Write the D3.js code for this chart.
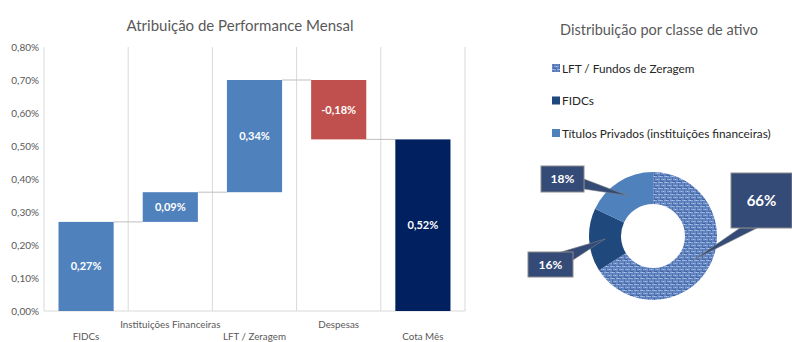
<!DOCTYPE html>
<html>
<head>
<meta charset="utf-8">
<script src="https://cdn.jsdelivr.net/npm/d3@7/dist/d3.min.js"></script>
<style>
  html, body { margin: 0; padding: 0; background: #fff; }
  svg { display: block; font-family: Lato, "Open Sans", sans-serif; }
</style>
</head>
<body>
<svg id="chart" width="792" height="342"></svg>
<script>
// Waterfall: monthly performance attribution
const categories = ["FIDCs", "Instituições Financeiras", "LFT / Zeragem", "Despesas", "Cota Mês"];
const deltas = [0.27, 0.09, 0.34, -0.18, 0.52];
const isTotal = [false, false, false, false, true];
const yTicks = [0, 0.1, 0.2, 0.3, 0.4, 0.5, 0.6, 0.7, 0.8];

// Donut: allocation by asset class
const classes = ["LFT / Fundos de Zeragem", "FIDCs", "Títulos Privados (instituições financeiras)"];
const shares = [66, 16, 18];

(function () {
const svg = d3.select("#chart");
const fmt = v => d3.format(".2f")(v).replace(".", ",").replace("\u2212", "-") + "%";

// ---------- waterfall ----------
const plotL = 44, plotR = 465, plotT = 47, plotB = 311;
const x = d3.scaleBand().domain(categories).range([plotL, plotR]).padding(0);
const y = d3.scaleLinear().domain([0, 0.8]).range([plotB, plotT]);

// running totals
let run = 0;
const steps = categories.map((c, i) => {
  let start, end;
  if (isTotal[i]) { start = 0; end = deltas[i]; run = end; }
  else { start = run; end = +(run + deltas[i]).toFixed(4); run = end; }
  return { cat: c, start, end, value: deltas[i], total: isTotal[i] };
});

svg.append("text")
  .attr("x", 240).attr("y", 31)
  .attr("text-anchor", "middle")
  .attr("fill", "#595959")
  .attr("font-size", 15)
  .text("Atribuição de Performance Mensal");

// vertical gridlines at band boundaries
const bounds = categories.map(c => x(c)).concat([plotR]);
svg.append("g").selectAll("line").data(bounds).join("line")
  .attr("x1", d => d).attr("x2", d => d)
  .attr("y1", plotT).attr("y2", plotB)
  .attr("stroke", "#d9d9d9").attr("stroke-width", 1);

svg.append("line")
  .attr("x1", plotL).attr("x2", plotR)
  .attr("y1", plotB).attr("y2", plotB)
  .attr("stroke", "#d9d9d9");

// y axis labels
const yAxis = d3.axisLeft(y).tickValues(yTicks).tickFormat(fmt).tickSize(0).tickPadding(5);
const gy = svg.append("g").attr("transform", `translate(${plotL},0)`).call(yAxis);
gy.select(".domain").remove();
gy.selectAll("text").attr("fill", "#595959").attr("font-size", 10)
  .attr("font-family", "Lato, 'Open Sans', sans-serif");

const barW = x.bandwidth() * 0.655;
const bx = c => x(c) + (x.bandwidth() - barW) / 2;
const color = d => d.total ? "#002060" : (d.value < 0 ? "#C0504D" : "#4F81BD");

// connectors
svg.append("g").selectAll("line").data(steps.slice(0, -1)).join("line")
  .attr("x1", d => bx(d.cat) + barW)
  .attr("x2", (d, i) => bx(steps[i + 1].cat))
  .attr("y1", d => y(d.end)).attr("y2", d => y(d.end))
  .attr("stroke", "#bfbfbf").attr("stroke-width", 1);

svg.append("g").selectAll("rect").data(steps).join("rect")
  .attr("x", d => bx(d.cat))
  .attr("width", barW)
  .attr("y", d => y(Math.max(d.start, d.end)))
  .attr("height", d => Math.abs(y(d.start) - y(d.end)))
  .attr("fill", color);

svg.append("g").selectAll("text").data(steps).join("text")
  .attr("x", d => bx(d.cat) + barW / 2)
  .attr("y", d => y((d.start + d.end) / 2) + 4)
  .attr("text-anchor", "middle")
  .attr("fill", "#fff")
  .attr("font-weight", "bold")
  .attr("font-size", 11)
  .text(d => fmt(d.value));

// category labels, staggered
svg.append("g").selectAll("text").data(categories).join("text")
  .attr("x", c => x(c) + x.bandwidth() / 2)
  .attr("y", (c, i) => i % 2 === 0 ? 340 : 328)
  .attr("text-anchor", "middle")
  .attr("fill", "#595959")
  .attr("font-size", 9.8)
  .text(c => c);

// ---------- donut ----------
const defs = svg.append("defs");
const pat = defs.append("pattern")
  .attr("id", "weave").attr("patternUnits", "userSpaceOnUse")
  .attr("width", 6).attr("height", 6);
pat.append("rect").attr("width", 6).attr("height", 6).attr("fill", "#6487C4");
pat.append("rect").attr("x", 0).attr("y", 0).attr("width", 6).attr("height", 1).attr("fill", "#8EABDC");
pat.append("rect").attr("x", 0).attr("y", 3).attr("width", 6).attr("height", 1).attr("fill", "#7E9ED4");
pat.append("rect").attr("x", 1).attr("y", 0).attr("width", 1).attr("height", 6).attr("fill", "#4D6FAC");
pat.append("rect").attr("x", 4).attr("y", 0).attr("width", 1).attr("height", 6).attr("fill", "#5578B5");
pat.append("rect").attr("x", 1).attr("y", 0).attr("width", 1).attr("height", 1).attr("fill", "#B0C6EA");
pat.append("rect").attr("x", 4).attr("y", 3).attr("width", 1).attr("height", 1).attr("fill", "#B0C6EA");
pat.append("rect").attr("x", 2).attr("y", 5).attr("width", 2).attr("height", 1).attr("fill", "#40609A");

const sliceFill = ["url(#weave)", "#1F497D", "#4F81BD"];

svg.append("text")
  .attr("x", 659).attr("y", 35)
  .attr("text-anchor", "middle")
  .attr("fill", "#595959")
  .attr("font-size", 14.5)
  .text("Distribuição por classe de ativo");

const lg = svg.append("g").selectAll("g").data(classes).join("g")
  .attr("transform", (d, i) => `translate(552,${69 + i * 32.5})`);
lg.append("rect").attr("x", 0).attr("y", -5).attr("width", 8).attr("height", 8)
  .attr("fill", (d, i) => sliceFill[i]);
lg.append("text").attr("x", 10).attr("y", 3.5)
  .attr("fill", "#262626").attr("font-size", 11.8)
  .text(d => d);

const cx = 653, cy = 236;
const pie = d3.pie().sort(null).value(d => d)(shares);
const arc = d3.arc().innerRadius(32).outerRadius(64);
const dg = svg.append("g").attr("transform", `translate(${cx},${cy})`);
dg.selectAll("path").data(pie).join("path")
  .attr("d", arc)
  .attr("fill", (d, i) => sliceFill[i]);

// callouts: box + pointer wedge toward a point on the slice
const callouts = [
  { i: 0, box: [731, 173, 61, 55], tail: [[740, 228], [757, 228]], fs: 15 },
  { i: 1, box: [528, 252, 45, 25], tail: [[561, 252], [573, 260]], fs: 12 },
  { i: 2, box: [541, 166, 43, 26], tail: [[584, 179], [584, 189]], fs: 12 }
];
const mid = d3.arc().innerRadius(48).outerRadius(48);
callouts.forEach(c => {
  const p = mid.centroid(pie[c.i]);
  const tip = [cx + p[0], cy + p[1]];
  svg.append("path")
    .attr("d", `M${c.tail[0][0]},${c.tail[0][1]}L${tip[0]},${tip[1]}L${c.tail[1][0]},${c.tail[1][1]}Z`)
    .attr("fill", "#344B78").attr("stroke", "#7f7f7f").attr("stroke-width", 0.6);
  svg.append("rect")
    .attr("x", c.box[0]).attr("y", c.box[1]).attr("width", c.box[2]).attr("height", c.box[3])
    .attr("fill", "#344B78").attr("stroke", "#8c8c8c").attr("stroke-width", 1);
  svg.append("text")
    .attr("x", c.box[0] + c.box[2] / 2).attr("y", c.box[1] + c.box[3] / 2 + c.fs * 0.36)
    .attr("text-anchor", "middle")
    .attr("fill", "#fff").attr("font-weight", "bold").attr("font-size", c.fs)
    .text(shares[c.i] + "%");
});
})();
</script>
</body>
</html>
